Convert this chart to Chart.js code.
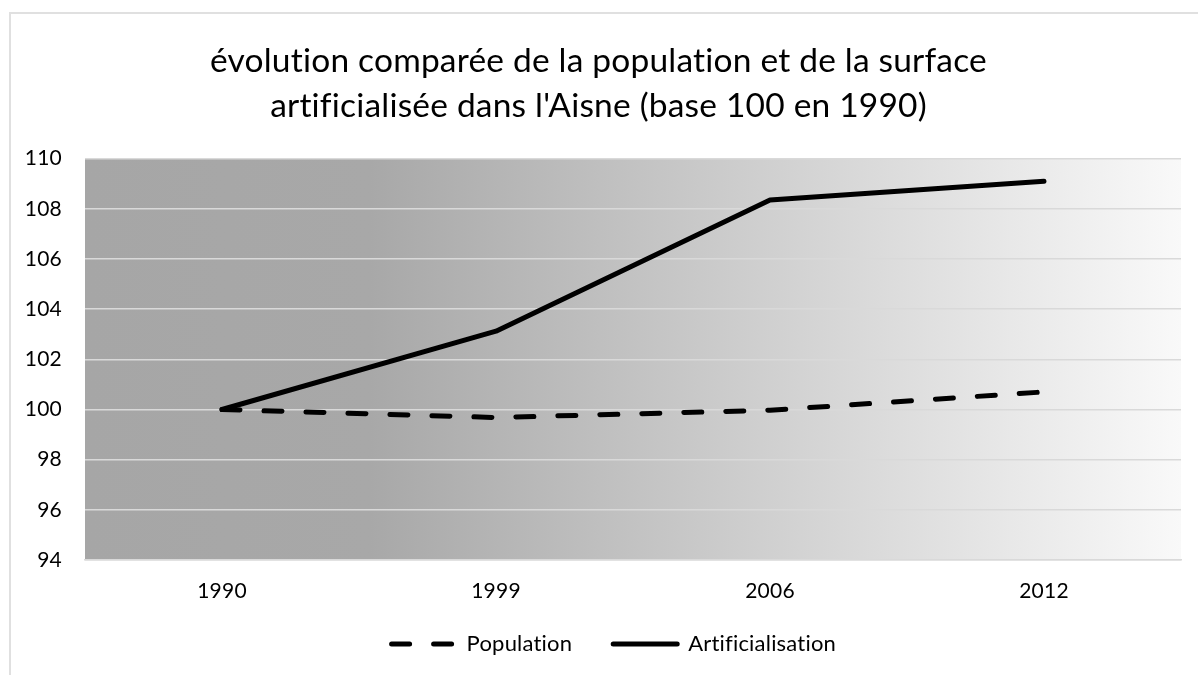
<!DOCTYPE html>
<html>
<head>
<meta charset="utf-8">
<script src="https://cdn.jsdelivr.net/npm/chart.js@4/dist/chart.umd.min.js"></script>
<style>
  html, body { margin: 0; padding: 0; background: #fff; overflow: hidden; }
  #wrap { position: relative; width: 1198px; height: 675px; }
  #frame { position: absolute; left: 9px; top: 12px; width: 1400px; height: 900px; border: 2px solid #e0e0e0; box-sizing: border-box; }
  canvas { position: absolute; left: 0; top: 0; }
</style>
</head>
<body>
<div id="wrap">
  <div id="frame"></div>
  <canvas id="c" width="1198" height="675"></canvas>
</div>
<script>
const titleLines = ["évolution comparée de la population et de la surface", "artificialisée dans l'Aisne (base 100 en 1990)"];
const categories = ["1990", "1999", "2006", "2012"];
const population = [100, 99.68, 99.97, 100.7];
const artificialisation = [100, 103.12, 108.35, 109.1];
const seriesNames = ["Population", "Artificialisation"];
const yMin = 94, yMax = 110, yStep = 2;

const FONT = "Lato";

const bgPlugin = {
  id: 'plotBg',
  beforeDraw(chart) {
    const a = chart.chartArea;
    const ctx = chart.ctx;
    try { ctx.letterSpacing = '0.2px'; } catch (e) {}
    const g = ctx.createLinearGradient(a.left, 0, a.right, 0);
    g.addColorStop(0, '#a6a6a6');
    g.addColorStop(0.26, '#a8a8a8');
    g.addColorStop(1, '#f9f9f9');
    ctx.save();
    ctx.fillStyle = g;
    ctx.fillRect(a.left, a.top, a.right - a.left, a.bottom - a.top);
    ctx.restore();
  }
};

const shiftPlugin = {
  id: 'shiftBoxes',
  beforeInit(chart) { try { chart.ctx.letterSpacing = '0.2px'; } catch (e) {} },
  afterLayout(chart) {
    if (chart.legend) { chart.legend.left += 21; chart.legend.right += 21; chart.legend.top -= 10; chart.legend.bottom -= 10; }
    if (chart.titleBlock) { chart.titleBlock.left += 8; chart.titleBlock.right += 8; }
  }
};

new Chart(document.getElementById('c'), {
  type: 'line',
  data: {
    labels: categories,
    datasets: [
      {
        label: seriesNames[0],
        data: population,
        borderColor: '#000',
        backgroundColor: '#000',
        borderWidth: 5,
        borderDash: [18, 24],
        borderCapStyle: 'round',
        borderJoinStyle: 'round',
        pointRadius: 0,
        tension: 0,
        fill: false
      },
      {
        label: seriesNames[1],
        data: artificialisation,
        borderColor: '#000',
        backgroundColor: '#000',
        borderWidth: 5,
        borderCapStyle: 'round',
        borderJoinStyle: 'round',
        pointRadius: 0,
        tension: 0,
        fill: false
      }
    ]
  },
  options: {
    responsive: false,
    animation: false,
    devicePixelRatio: 1,
    layout: { padding: { left: 0, right: 17, top: 0, bottom: 0 } },
    plugins: {
      title: {
        display: true,
        text: titleLines,
        color: '#000',
        font: { family: FONT, size: 33.5, weight: 'normal', lineHeight: 1.36 },
        padding: { top: 38, bottom: 29.5 }
      },
      legend: {
        display: true,
        position: 'bottom',
        labels: {
          color: '#000',
          font: { family: FONT, size: 22 },
          usePointStyle: true,
          pointStyle: 'line',
          pointStyleWidth: 64,
          boxHeight: 22,
          padding: 41,
          generateLabels(chart) {
            return chart.data.datasets.map((ds, i) => ({
              text: ds.label,
              fillStyle: 'rgba(0,0,0,0)',
              strokeStyle: ds.borderColor,
              lineWidth: ds.borderWidth,
              lineDash: ds.borderDash ? ds.borderDash.slice() : [],
              lineDashOffset: 0,
              lineCap: 'round',
              lineJoin: 'round',
              pointStyle: 'line',
              rotation: 0,
              hidden: false,
              fontColor: '#000',
              datasetIndex: i
            }));
          }
        }
      },
      tooltip: { enabled: false }
    },
    scales: {
      x: {
        type: 'category',
        offset: true,
        grid: { display: false, drawTicks: false },
        border: { display: true, color: '#d9d9d9', width: 1.5 },
        ticks: { color: '#000', font: { family: FONT, size: 21 }, padding: 19, maxRotation: 0 },
        afterFit(scale) { scale.height = 42; }
      },
      y: {
        min: yMin,
        max: yMax,
        grid: { color: '#d9d9d9', lineWidth: 1.5, drawTicks: false },
        border: { display: false },
        ticks: { stepSize: yStep, color: '#000', font: { family: FONT, size: 21 }, padding: 23 },
        afterFit(scale) { scale.width = 85; }
      }
    }
  },
  plugins: [bgPlugin, shiftPlugin]
});
</script>
</body>
</html>
